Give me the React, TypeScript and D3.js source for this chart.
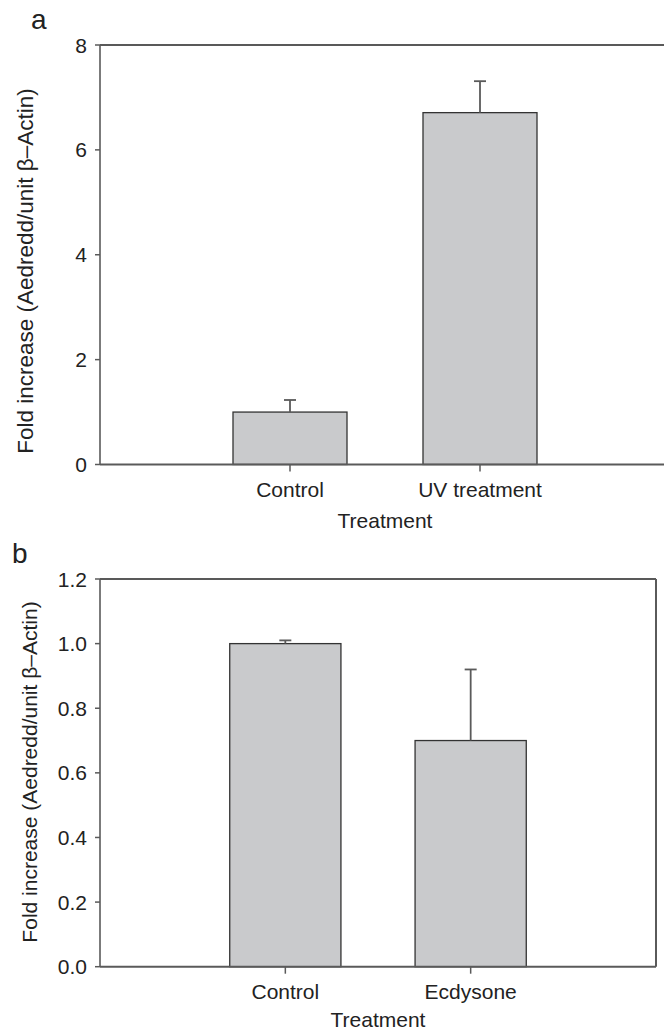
import React from "react";
import * as d3 from "d3";

// panel a
const A_CATEGORIES = ["Control", "UV treatment"];
const A_VALUES = [1.0, 6.71];
const A_ERRORS = [0.23, 0.6];
const A_TICKS = [0, 2, 4, 6, 8];

// panel b
const B_CATEGORIES = ["Control", "Ecdysone"];
const B_VALUES = [1.0, 0.7];
const B_ERRORS = [0.01, 0.22];
const B_TICKS = [0, 0.2, 0.4, 0.6, 0.8, 1.0, 1.2];

const FONT = "'Liberation Sans', Arial, sans-serif";
const TEXT = "#222";
const BAR_FILL = "#c9cacc";
const AXIS = "#5a5a5a";

type PanelProps = {
  letter: string;
  letterX: number;
  letterY: number;
  left: number;
  right: number;
  top: number;
  bottom: number;
  yMax: number;
  ticks: number[];
  fmt: (v: number) => string;
  categories: string[];
  values: number[];
  errors: number[];
  labelX: number;
  labelY: number;
  labelSize: number;
  titleDy: number;
  frameRight: boolean;
};

const Panel = (p: PanelProps) => {
  const x = d3.scaleLinear().domain([0, 3]).range([p.left, p.right]);
  const y = d3.scaleLinear().domain([0, p.yMax]).range([p.bottom, p.top]);
  const barW = x(0.6) - x(0);
  const capW = 12;
  const cx = (p.left + p.right) / 2;

  return (
    <g>
      <text x={p.letterX} y={p.letterY} fontSize={28} fill={TEXT} fontFamily={FONT}>
        {p.letter}
      </text>

      {/* bars */}
      {p.categories.map((c, i) => (
        <rect
          key={c}
          x={x(i + 1) - barW / 2}
          y={y(p.values[i])}
          width={barW}
          height={y(0) - y(p.values[i])}
          fill={BAR_FILL}
          stroke="#333"
          strokeWidth={1.3}
        />
      ))}

      {/* error bars, upper only */}
      {p.categories.map((c, i) => (
        <g key={c + "-err"} stroke={AXIS} strokeWidth={1.8}>
          <line x1={x(i + 1)} x2={x(i + 1)} y1={y(p.values[i])} y2={y(p.values[i] + p.errors[i])} />
          <line
            x1={x(i + 1) - capW / 2}
            x2={x(i + 1) + capW / 2}
            y1={y(p.values[i] + p.errors[i])}
            y2={y(p.values[i] + p.errors[i])}
          />
        </g>
      ))}

      {/* frame */}
      <line x1={p.left} x2={p.right} y1={p.top} y2={p.top} stroke="#222" strokeWidth={1.5} />
      {p.frameRight && (
        <line x1={p.right} x2={p.right} y1={p.top} y2={p.bottom} stroke={AXIS} strokeWidth={2} />
      )}
      <line x1={p.left} x2={p.left} y1={p.top} y2={p.bottom} stroke={AXIS} strokeWidth={1.6} />
      <line x1={p.left} x2={p.right} y1={p.bottom} y2={p.bottom} stroke={AXIS} strokeWidth={2} />

      {/* y ticks */}
      {p.ticks.map((t) => (
        <g key={t}>
          <line x1={p.left - 5} x2={p.left} y1={y(t)} y2={y(t)} stroke={AXIS} strokeWidth={1.5} />
          <text
            x={p.left - 13}
            y={y(t)}
            dy="0.36em"
            textAnchor="end"
            fontSize={21}
            fill={TEXT}
            fontFamily={FONT}
          >
            {p.fmt(t)}
          </text>
        </g>
      ))}

      {/* x ticks */}
      {p.categories.map((c, i) => (
        <g key={c + "-tick"}>
          <line x1={x(i + 1)} x2={x(i + 1)} y1={p.bottom} y2={p.bottom + 7} stroke={AXIS} strokeWidth={1.5} />
          <text x={x(i + 1)} y={p.bottom + 32} textAnchor="middle" fontSize={21} fill={TEXT} fontFamily={FONT}>
            {c}
          </text>
        </g>
      ))}

      <text x={cx} y={p.bottom + p.titleDy} textAnchor="middle" fontSize={21} fill={TEXT} fontFamily={FONT}>
        Treatment
      </text>

      <text
        transform={`translate(${p.labelX},${p.labelY}) rotate(-90)`}
        textAnchor="middle"
        fontSize={p.labelSize}
        fill={TEXT}
        fontFamily={FONT}
      >
        Fold increase (Aedredd/unit β–Actin)
      </text>
    </g>
  );
};

export default function App() {
  return (
    <svg
      width={664}
      height={1032}
      style={{ position: "absolute", left: 0, top: 0, background: "#fff" }}
    >
      <Panel
        letter="a"
        letterX={31}
        letterY={29}
        left={100}
        right={670}
        top={45}
        bottom={464.5}
        yMax={8}
        ticks={A_TICKS}
        fmt={d3.format("d")}
        categories={A_CATEGORIES}
        values={A_VALUES}
        errors={A_ERRORS}
        labelX={33}
        labelY={271}
        labelSize={22.5}
        titleDy={63}
        frameRight={false}
      />
      <Panel
        letter="b"
        letterX={12}
        letterY={563}
        left={100}
        right={656}
        top={579}
        bottom={966.7}
        yMax={1.2}
        ticks={B_TICKS}
        fmt={d3.format(".1f")}
        categories={B_CATEGORIES}
        values={B_VALUES}
        errors={B_ERRORS}
        labelX={37}
        labelY={772}
        labelSize={21}
        titleDy={60}
        frameRight={true}
      />
    </svg>
  );
}
